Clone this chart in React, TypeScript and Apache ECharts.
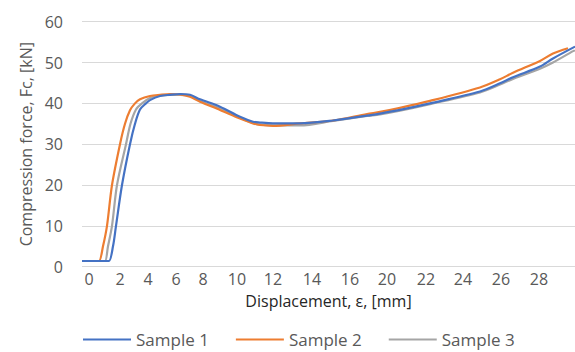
import React, { useEffect, useRef } from "react";
import * as echarts from "echarts";

// x is the row (category) index of the original sheet, as laid out on the axis
const xTickPositions = [7, 38, 66, 94, 121, 155, 191, 230, 268, 305, 344, 381, 419, 457];
const xTickLabels = ["0", "2", "4", "6", "8", "10", "12", "14", "16", "20", "22", "24", "26", "28"];
const yTicks = [0, 10, 20, 30, 40, 50, 60];

const seriesNames = ["Sample 1", "Sample 2", "Sample 3"];
const seriesColors = ["#4472C4", "#ED7D31", "#A5A5A5"];

const sample1X = [0, 23, 27, 31, 34, 40, 48, 53, 58, 64, 68, 78, 88, 98, 108, 118, 138, 158, 171, 178, 191, 218, 251, 285, 298, 318, 348, 398, 418, 431, 458, 471, 493];
const sample1Y = [1.4, 1.4, 1.4, 5, 10, 20, 30, 35, 38.5, 40, 40.8, 41.8, 42.1, 42.3, 42.1, 41.0, 39.2, 36.7, 35.5, 35.3, 35.1, 35.1, 35.8, 37.0, 37.5, 38.4, 40.0, 42.9, 44.9, 46.4, 49.0, 51.0, 53.9];

const sample2X = [0, 13, 17, 21, 25, 30, 38, 43, 48, 53, 58, 68, 78, 88, 98, 108, 118, 138, 158, 171, 178, 191, 218, 251, 285, 298, 318, 348, 398, 418, 431, 458, 471, 486];
const sample2Y = [1.4, 1.4, 1.4, 5, 10, 20, 30, 35, 38.3, 40, 41.0, 41.8, 42.1, 42.3, 42.2, 41.6, 40.4, 38.4, 36.3, 35.1, 34.7, 34.5, 35.1, 35.8, 37.4, 37.9, 38.9, 40.6, 43.9, 45.9, 47.5, 50.4, 52.2, 53.5];

const sample3X = [0, 19, 23, 26, 30, 35, 44, 48.5, 54, 60, 68, 78, 88, 98, 108, 118, 138, 158, 171, 178, 191, 218, 251, 285, 298, 318, 348, 398, 418, 431, 458, 471, 491, 493];
const sample3Y = [1.4, 1.4, 1.4, 5, 10, 20, 30, 35, 38.5, 40, 41.3, 41.9, 42.1, 42.1, 41.8, 40.6, 38.8, 36.5, 35.2, 34.8, 34.6, 34.6, 35.7, 36.9, 37.3, 38.2, 39.8, 42.7, 44.6, 46.0, 48.5, 50.0, 52.8, 53.0];

const FONT = "'Open Sans', 'Noto Sans', sans-serif";

function zip(xs: number[], ys: number[]) {
  return xs.map((x, i) => [x, ys[i]]);
}

export default function App() {
  const ref = useRef<HTMLDivElement>(null);
  useEffect(() => {
    document.body.style.margin = "0";
    if (!ref.current) return;
    const chart = echarts.init(ref.current, undefined, { renderer: "svg" });
    const data = [zip(sample1X, sample1Y), zip(sample2X, sample2Y), zip(sample3X, sample3Y)];
    chart.setOption({
      animation: false,
      textStyle: { fontFamily: FONT },
      grid: { left: 82, right: 0, top: 21.7, bottom: 85.3, outerBoundsMode: "none" },
      xAxis: {
        type: "value",
        min: 0,
        max: 493,
        name: "Displacement, ε, [mm]",
        nameLocation: "middle",
        nameGap: 26,
        nameTextStyle: { color: "#262626", fontSize: 16, fontFamily: FONT },
        axisLine: { show: false },
        axisTick: { show: false },
        splitLine: { show: false },
        axisLabel: {
          customValues: xTickPositions,
          formatter: (v: number) => {
            const i = xTickPositions.indexOf(v);
            return i >= 0 ? xTickLabels[i] : "";
          },
          color: "#595959",
          fontSize: 16,
          fontFamily: FONT,
          margin: 4,
        },
      },
      yAxis: {
        type: "value",
        min: yTicks[0],
        max: yTicks[yTicks.length - 1],
        interval: 10,
        name: "Compression force, Fc, [kN]",
        nameLocation: "middle",
        nameGap: 48,
        nameTextStyle: { color: "#595959", fontSize: 16, fontFamily: FONT },
        axisLine: { show: false },
        axisTick: { show: false },
        splitLine: { lineStyle: { color: "#D9D9D9", width: 1 } },
        axisLabel: { color: "#595959", fontSize: 16, fontFamily: FONT, margin: 19 },
      },
      legend: {
        left: 83,
        top: 331,
        padding: 0,
        icon: "rect",
        itemWidth: 48,
        itemHeight: 2,
        itemGap: 27,
        textStyle: { color: "#595959", fontSize: 17, lineHeight: 17, fontFamily: FONT, padding: [0, 0, 0, 0] },
        data: seriesNames,
      },
      series: seriesNames.map((name, i) => ({
        name,
        type: "line",
        data: data[i],
        symbol: "none",
        smooth: 0.3,
        color: seriesColors[i],
        lineStyle: { color: seriesColors[i], width: 2.2 },
        z: i === 0 ? 4 : i === 1 ? 3 : 2,
      })),
    });
    return () => chart.dispose();
  }, []);
  return <div ref={ref} style={{ width: 575, height: 352 }} />;
}
